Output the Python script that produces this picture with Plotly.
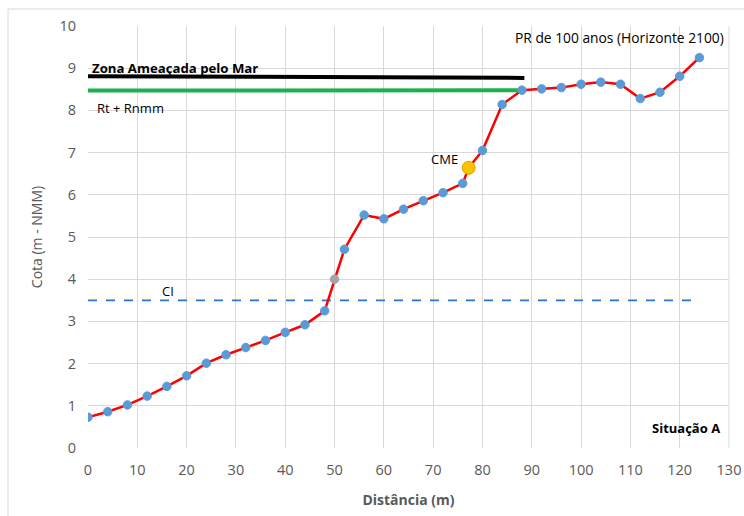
import plotly.graph_objects as go

# Profile data
distance = [0, 4, 8, 12, 16, 20, 24, 28, 32, 36, 40, 44, 48, 50, 52, 56, 60, 64, 68, 72, 76, 77.2,
            80, 84, 88, 92, 96, 100, 104, 108, 112, 116, 120, 124]
elevation = [0.73, 0.86, 1.02, 1.23, 1.46, 1.71, 2.01, 2.21, 2.38, 2.55, 2.74, 2.92, 3.25, 4.0, 4.71,
             5.52, 5.43, 5.66, 5.86, 6.05, 6.27, 6.64, 7.05, 8.14, 8.48, 8.51, 8.54, 8.62, 8.67,
             8.62, 8.28, 8.43, 8.81, 9.25]
point_kind = ["p"] * 13 + ["ci"] + ["p"] * 7 + ["cme"] + ["p"] * 12

zona_x = [0, 88.5]
zona_y = [8.81, 8.77]
rt_x = [0, 88]
rt_y = [8.47, 8.48]
ci_x = [0, 123]
ci_y = [3.5, 3.5]

color_map = {"p": "#5B9BD5", "ci": "#A5A5A5", "cme": "#FFC000"}
size_map = {"p": 8.5, "ci": 8.5, "cme": 13}
line_map = {"p": "#5B9BD5", "ci": "#A5A5A5", "cme": "#D9A300"}

FONT = "Open Sans"
GREY = "#595959"

fig = go.Figure()
fig.add_trace(go.Scatter(x=zona_x, y=zona_y, mode="lines",
                         line=dict(color="black", width=4), hoverinfo="skip"))
fig.add_trace(go.Scatter(x=rt_x, y=rt_y, mode="lines",
                         line=dict(color="#1DB04F", width=4), hoverinfo="skip"))
fig.add_trace(go.Scatter(x=ci_x, y=ci_y, mode="lines",
                         line=dict(color="#2E75D0", width=1.8, dash="dash"), hoverinfo="skip"))
fig.add_trace(go.Scatter(
    x=distance, y=elevation, mode="lines+markers",
    line=dict(color="#FF0000", width=2.5),
    marker=dict(color=[color_map[k] for k in point_kind],
                size=[size_map[k] for k in point_kind],
                opacity=1,
                line=dict(color=[line_map[k] for k in point_kind], width=1)),
))

annotations = [
    dict(x=0.5, y=9.0, text="<b>Zona Ameaçada pelo Mar</b>", xanchor="left", yanchor="middle",
         font=dict(size=13.2, color="black")),
    dict(x=1.5, y=8.05, text="Rt + Rnmm", xanchor="left", yanchor="middle",
         font=dict(size=13, color="black")),
    dict(x=14.7, y=3.73, text="CI", xanchor="left", yanchor="middle",
         font=dict(size=13, color="black")),
    dict(x=69.2, y=6.85, text="CME", xanchor="left", yanchor="middle",
         font=dict(size=13, color="black")),
    dict(x=129.3, y=9.72, text="PR de 100 anos (Horizonte 2100)", xanchor="right", yanchor="middle",
         font=dict(size=13.8, color="black")),
    dict(x=128.5, y=0.47, text="<b>Situação A</b>", xanchor="right", yanchor="middle",
         font=dict(size=13, color="black")),
]
for a in annotations:
    a.update(xref="x", yref="y", showarrow=False)

fig.update_layout(
    template="none",
    width=744, height=516,
    margin=dict(l=88, r=15, t=26, b=68, autoexpand=False),
    paper_bgcolor="white", plot_bgcolor="white",
    showlegend=False,
    font=dict(family=FONT, color=GREY, size=13),
    annotations=annotations,
    xaxis=dict(range=[0, 130], dtick=10, tick0=0, showgrid=True, gridcolor="#D9D9D9",
               gridwidth=1, zeroline=False, showline=False, automargin=False,
               ticks="outside", ticklen=9, tickcolor="rgba(0,0,0,0)",
               tickfont=dict(size=14.5, color=GREY),
               title=dict(text="<b>Distância (m)</b>", font=dict(size=14, color=GREY), standoff=16)),
    yaxis=dict(range=[0, 10], dtick=1, tick0=0, showgrid=True, gridcolor="#D9D9D9",
               gridwidth=1, zeroline=False, showline=False, automargin=False,
               ticks="outside", ticklen=8, tickcolor="rgba(0,0,0,0)",
               tickfont=dict(size=14.5, color=GREY),
               title=dict(text="Cota (m - NMM)", font=dict(size=14, color=GREY), standoff=13)),
    shapes=[
        dict(type="line", xref="paper", yref="paper", x0=-0.1248, x1=-0.1248, y0=1.0403, y1=-0.17,
             line=dict(color="#D9D9D9", width=1)),
        dict(type="line", xref="paper", yref="paper", x0=-0.1248, x1=1.03, y0=1.0403, y1=1.0403,
             line=dict(color="#D9D9D9", width=1)),
        dict(type="line", xref="paper", yref="paper", x0=1, x1=1, y0=0, y1=1,
             line=dict(color="#D9D9D9", width=1), layer="below"),
    ],
)

fig.write_html("out.html", config={"displayModeBar": False},
               post_script="document.body.style.margin='0';document.body.style.overflow='hidden';")
